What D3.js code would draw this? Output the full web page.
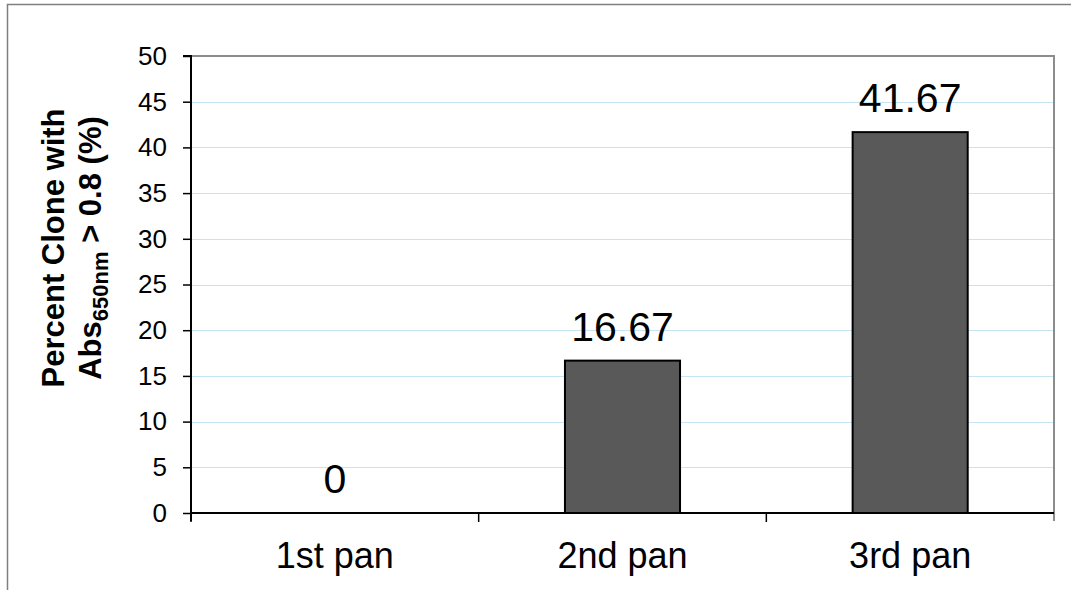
<!DOCTYPE html>
<html>
<head>
<meta charset="utf-8">
<script src="https://cdn.jsdelivr.net/npm/d3@7"></script>
<style>
  html, body { margin: 0; padding: 0; background: #fff; }
  svg { display: block; font-family: Arial, "Liberation Sans", sans-serif; }
</style>
</head>
<body>
<svg id="chart" width="1071" height="590"></svg>
<script>
// Percent of clones above the absorbance threshold, per panning round
const categories = ["1st pan", "2nd pan", "3rd pan"];
const percentValues = [0, 16.67, 41.67];
const valueLabels = ["0", "16.67", "41.67"];
const yTicks = [0, 5, 10, 15, 20, 25, 30, 35, 40, 45, 50];

const svg = d3.select("#chart");
const W = 1071, H = 590;
const plot = { left: 191, right: 1054, top: 56, bottom: 513 };

// outer frame (top and left edges only)
svg.append("path")
  .attr("d", `M7.5,${H} L7.5,4.5 L${W},4.5`)
  .attr("fill", "none")
  .attr("stroke", "#7f7f7f")
  .attr("stroke-width", 1.5);

const y = d3.scaleLinear().domain([0, 50]).range([plot.bottom, plot.top]);
const x = d3.scaleBand().domain(categories)
  .range([plot.left, plot.right])
  .paddingInner(0.6).paddingOuter(0.3);

// horizontal gridlines
svg.append("g")
  .selectAll("line")
  .data(yTicks.filter(t => t > 0 && t < 50))
  .join("line")
  .attr("x1", plot.left).attr("x2", plot.right)
  .attr("y1", d => Math.round(y(d)) + 0.5).attr("y2", d => Math.round(y(d)) + 0.5)
  .attr("stroke", "#c6e5f3")
  .attr("stroke-width", 1);

// top and right plot border
svg.append("path")
  .attr("d", `M${plot.left},${plot.top} L${plot.right},${plot.top} L${plot.right},${plot.bottom + 8}`)
  .attr("fill", "none")
  .attr("stroke", "#8c8c8c")
  .attr("stroke-width", 2);

// bars
svg.append("g")
  .selectAll("rect")
  .data(percentValues)
  .join("rect")
  .attr("x", (d, i) => x(categories[i]))
  .attr("width", x.bandwidth())
  .attr("y", d => y(d))
  .attr("height", d => y(0) - y(d))
  .attr("fill", "#595959")
  .attr("stroke", "#000")
  .attr("stroke-width", 2)
  .attr("display", d => d > 0 ? null : "none");

// value labels
svg.append("g")
  .selectAll("text")
  .data(percentValues)
  .join("text")
  .attr("x", (d, i) => x(categories[i]) + x.bandwidth() / 2)
  .attr("y", d => y(d) - 20)
  .attr("text-anchor", "middle")
  .attr("font-size", 41)
  .attr("fill", "#000")
  .text((d, i) => valueLabels[i]);

// y axis
const yAxis = d3.axisLeft(y).tickValues(yTicks).tickSize(8).tickPadding(16);
const gy = svg.append("g")
  .attr("transform", `translate(${plot.left},0)`)
  .call(yAxis);
gy.select(".domain").attr("stroke", "#000").attr("stroke-width", 2)
  .attr("d", `M-8,${y(50)}H0V${y(0) + 8}`);
gy.selectAll(".tick line").attr("stroke", "#000").attr("stroke-width", 1.5);
gy.selectAll(".tick text")
  .attr("font-size", 26)
  .attr("font-family", "Arial, 'Liberation Sans', sans-serif")
  .attr("fill", "#000");

// x axis baseline and category boundary ticks
const boundaries = d3.range(categories.length + 1).map(i => plot.left + i * x.step());
svg.append("line")
  .attr("x1", plot.left).attr("x2", plot.right)
  .attr("y1", y(0)).attr("y2", y(0))
  .attr("stroke", "#000").attr("stroke-width", 2);
svg.append("g")
  .selectAll("line")
  .data(boundaries.slice(0, -1))
  .join("line")
  .attr("x1", d => d).attr("x2", d => d)
  .attr("y1", y(0)).attr("y2", y(0) + 9)
  .attr("stroke", "#000").attr("stroke-width", 1.5);

// category labels
svg.append("g")
  .selectAll("text")
  .data(categories)
  .join("text")
  .attr("x", d => x(d) + x.bandwidth() / 2)
  .attr("y", 568)
  .attr("text-anchor", "middle")
  .attr("font-size", 36)
  .attr("fill", "#000")
  .text(d => d);

// y axis title, two lines, rotated
const title = svg.append("text")
  .attr("transform", "translate(0,248) rotate(-90)")
  .attr("text-anchor", "middle")
  .attr("font-weight", "bold")
  .attr("font-size", 31)
  .attr("fill", "#000");
title.append("tspan").attr("x", 0).attr("y", 64).text("Percent Clone with");
const line2 = title.append("tspan").attr("x", 0).attr("y", 101);
line2.append("tspan").text("Abs");
line2.append("tspan").attr("font-size", 22).attr("dy", 7).text("650nm");
line2.append("tspan").attr("dy", -7).text(" > 0.8 (%)");
</script>
</body>
</html>
